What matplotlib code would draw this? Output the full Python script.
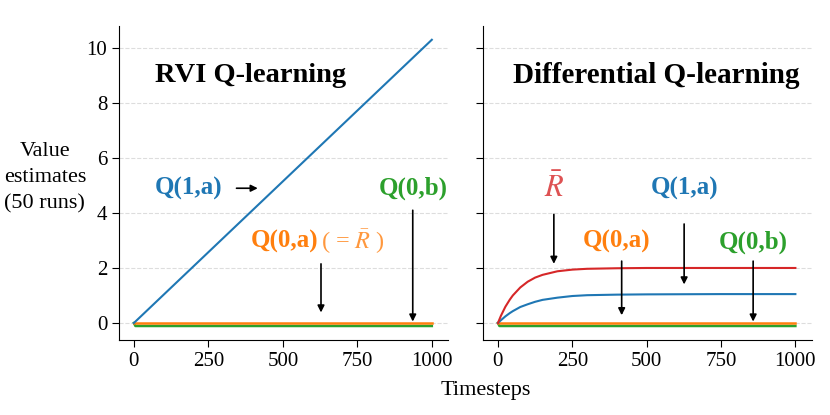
import matplotlib
matplotlib.use("Agg")
import matplotlib.pyplot as plt

plt.rcParams["font.family"] = ["Liberation Serif", "DejaVu Serif"]
plt.rcParams["mathtext.fontset"] = "stix"

BLUE, ORANGE, GREEN, RED = "#1f77b4", "#ff7f0e", "#2ca02c", "#d62728"

# RVI Q-learning
rvi_t = [0, 500, 1000]
rvi_q1a = [0.0, 5.15, 10.3]
flat_t = [0, 5, 1000]
q0a = [0.0, 0.0, 0.0]
q0b = [0.0, -0.11, -0.11]

# Differential Q-learning
diff_t = [0, 10, 25, 40, 50, 75, 100, 125, 150, 200, 250, 300, 400, 500, 750, 1000]
diff_rbar = [0.0, 0.26, 0.59, 0.85, 1.00, 1.29, 1.50, 1.65, 1.75, 1.88, 1.94, 1.97, 1.99, 2.0, 2.0, 2.0]
diff_q1a = [0.0, 0.10, 0.24, 0.36, 0.43, 0.58, 0.68, 0.77, 0.84, 0.92, 0.98, 1.01, 1.03, 1.04, 1.05, 1.05]

xticks = [0, 250, 500, 750, 1000]
yticks = [0, 2, 4, 6, 8, 10]

fig = plt.figure(figsize=(8.3, 4.15), dpi=100)
ax1 = fig.add_axes([0.1434, 0.1807, 0.3966, 0.7566])
ax2 = fig.add_axes([0.582, 0.1807, 0.396, 0.7566], sharey=ax1)

for ax in (ax1, ax2):
    ax.spines["top"].set_visible(False)
    ax.spines["right"].set_visible(False)
    ax.set_xlim(-50, 1055)
    ax.set_ylim(-0.62, 10.8)
    ax.set_xticks(xticks)
    ax.set_yticks(yticks)
    ax.tick_params(labelsize=15, length=5)
    ax.yaxis.grid(True, ls="--", color="#dddddd", lw=0.8)
    ax.set_axisbelow(True)
ax2.tick_params(labelleft=False)

arrow = dict(arrowstyle="-|>", color="black", lw=1.2, mutation_scale=10)
lab = dict(fontsize=18, fontweight="bold", ha="center", va="center")

# left panel
ax1.plot(flat_t, q0b, color=GREEN, lw=1.8)
ax1.plot(flat_t, q0a, color=ORANGE, lw=1.8)
ax1.plot(rvi_t, rvi_q1a, color=BLUE, lw=1.5)
ax1.text(70, 9.0, "RVI Q-learning", fontsize=20.5, fontweight="bold", va="center")
ax1.text(185, 4.9, "Q(1,a)", color=BLUE, **lab)
ax1.annotate("", xy=(425, 4.9), xytext=(335, 4.9), arrowprops=arrow)
ax1.text(936, 4.9, "Q(0,b)", color=GREEN, **lab)
ax1.annotate("", xy=(936, -0.05), xytext=(936, 4.2), arrowprops=arrow)
ax1.text(505, 2.95, "Q(0,a)", color=ORANGE, **lab)
ax1.text(628, 2.95, r"( = $\bar{R}$ )", color=ORANGE, alpha=0.8,
         fontsize=17.5, ha="left", va="center")
ax1.annotate("", xy=(628, 0.28), xytext=(628, 2.25), arrowprops=arrow)

# right panel
ax2.plot(flat_t, q0b, color=GREEN, lw=1.8)
ax2.plot(flat_t, q0a, color=ORANGE, lw=1.8)
ax2.plot(diff_t, diff_q1a, color=BLUE, lw=1.5)
ax2.plot(diff_t, diff_rbar, color=RED, lw=1.5)
ax2.text(1015, 9.0, "Differential Q-learning", fontsize=21, fontweight="bold",
         ha="right", va="center")
ax2.text(188, 4.9, r"$\bar{R}$", color=RED, alpha=0.8, fontsize=22,
         ha="center", va="center")
ax2.annotate("", xy=(188, 2.05), xytext=(188, 4.05), arrowprops=arrow)
ax2.text(626, 4.9, "Q(1,a)", color=BLUE, **lab)
ax2.annotate("", xy=(626, 1.3), xytext=(626, 3.7), arrowprops=arrow)
ax2.text(400, 2.95, "Q(0,a)", color=ORANGE, **lab)
ax2.annotate("", xy=(416, 0.18), xytext=(416, 2.35), arrowprops=arrow)
ax2.text(860, 2.95, "Q(0,b)", color=GREEN, **lab)
ax2.annotate("", xy=(858, -0.05), xytext=(858, 2.35), arrowprops=arrow)

fig.text(0.054, 0.571, "Value\nestimates\n(50 runs)", fontsize=16,
         ha="center", va="center", linespacing=1.5)
fig.text(0.585, 0.058, "Timesteps", fontsize=16, ha="center", va="center")

fig.savefig("out.png", dpi=100)
